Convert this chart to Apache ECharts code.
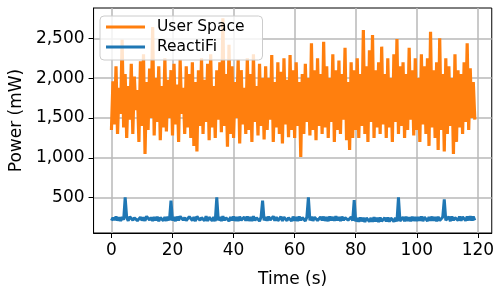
<!DOCTYPE html>
<html lang="en">
<head>
    <meta charset="UTF-8">
    <title>Power over time</title>
    <script src="https://cdn.jsdelivr.net/npm/echarts@6/dist/echarts.min.js"></script>
    <style>
        body, html {
            margin: 0;
            padding: 0;
            background: #fff;
        }
        #chart {
            width: 497px;
            height: 293px;
        }
    </style>
</head>
<body>
<div id="chart"></div>
<script>
    // sample spacing in seconds
    const timeStep = 0.5;

    // User Space power (mW), one value every 0.5 s from t = 0
    const userSpace = [
        1350, 1960, 1420, 2150, 1300, 1880, 1550, 2480, 1380, 2050,
        1250, 1900, 1480, 2180, 1300, 2020, 1600, 1850, 1200, 2210,
        1400, 2300, 1050, 1950, 1350, 2120, 1500, 2640, 1280, 2000,
        1450, 2150, 1220, 1900, 1380, 2250, 1330, 1980, 1500, 2100,
        1280, 2180, 1420, 1920, 1200, 2230, 1550, 1880, 1300, 2150,
        1380, 2050, 1250, 2200, 1150, 1950, 1080, 2100, 1400, 2250,
        1300, 1980, 1450, 2180, 1220, 2300, 1380, 1900, 1250, 2100,
        1480, 2200, 1320, 2750, 1400, 2050, 1140, 2420, 1300, 2150,
        1250, 1950, 1500, 2230, 1180, 2100, 1420, 1880, 1300, 2250,
        1350, 2050, 1200, 2300, 1450, 1900, 1280, 2180, 1400, 2000,
        1230, 2150, 1350, 2000, 1480, 2290, 1200, 1950, 1380, 2200,
        1300, 2080, 1180, 2250, 1420, 1980, 1260, 2290, 1350, 2100,
        1250, 2200, 1400, 1950, 1010, 2050, 1300, 2180, 1450, 2000,
        1280, 2437, 1350, 2100, 1220, 2250, 1400, 2050, 1300, 2457,
        1380, 2150, 1250, 2000, 1450, 2300, 1200, 2100, 1350, 2220,
        1300, 2050, 1480, 2380, 1220, 1950, 1100, 2200, 1250, 2100,
        1350, 2250, 1250, 2050, 1400, 2605, 1300, 2150, 1200, 2350,
        1450, 2540, 1250, 2100, 1380, 2200, 1300, 2395, 1420, 2050,
        1250, 2250, 1380, 2000, 1200, 2300, 1450, 2490, 1300, 2150,
        1400, 2200, 1250, 2050, 1350, 2380, 1480, 2100, 1280, 2250,
        1350, 2000, 1200, 2300, 1420, 2150, 1300, 2250, 1150, 2583,
        1380, 2100, 1250, 2200, 1100, 2500, 1350, 2050, 1080, 2250,
        1300, 2150, 1400, 2000, 1050, 2300, 1200, 2100, 1380, 2050,
        1300, 2200, 1450, 2437, 1350, 2123, 1500, 1950, 1480
    ];

    // ReactiFi power (mW), same sampling
    const reactiFi = [
        212, 248, 220, 262, 214, 252, 208, 258, 222, 505,
        250, 210, 262, 268, 216, 248, 264, 212, 206, 256,
        214, 254, 210, 266, 270, 220, 252, 208, 258, 214,
        260, 206, 250, 264, 212, 256, 210, 262, 216, 462,
        212, 258, 206, 262, 214, 266, 270, 218, 250, 212,
        208, 262, 266, 214, 256, 206, 264, 268, 216, 250,
        258, 212, 266, 208, 254, 262, 210, 256, 206, 505,
        214, 258, 208, 266, 216, 250, 262, 206, 256, 214,
        264, 210, 256, 208, 262, 216, 206, 258, 212, 264,
        210, 256, 208, 266, 214, 250, 262, 206, 256, 462,
        214, 258, 210, 264, 218, 208, 266, 212, 258, 210,
        216, 262, 208, 256, 268, 212, 250, 258, 206, 262,
        212, 256, 208, 264, 216, 250, 262, 208, 256, 505,
        216, 262, 210, 256, 266, 214, 208, 258, 216, 262,
        210, 256, 206, 264, 216, 258, 210, 268, 214, 256,
        208, 262, 216, 250, 266, 218, 208, 258, 212, 470,
        202, 246, 198, 252, 204, 248, 196, 244, 252, 200,
        246, 198, 254, 202, 248, 196, 252, 204, 200, 248,
        202, 252, 198, 246, 254, 200, 248, 204, 505, 206,
        210, 256, 204, 262, 208, 254, 206, 260, 210, 256,
        208, 258, 210, 264, 206, 256, 260, 208, 258, 212,
        262, 210, 258, 206, 260, 212, 210, 258, 480, 216,
        210, 260, 206, 264, 216, 250, 268, 216, 262, 212,
        260, 266, 212, 262, 216, 268, 214, 262, 216
    ];

    const xTicks = [0, 20, 40, 60, 80, 100, 120];
    const yTicks = [500, 1000, 1500, 2000, 2500];

    const toPairs = arr => arr.map((v, i) => [i * timeStep, v]);

    const font = 'DejaVu Sans';
    const chart = echarts.init(document.getElementById('chart'), null, { renderer: 'canvas' });

    const option = {
        animation: false,
        grid: {
            left: 91,
            right: 5,
            top: 8,
            bottom: 60,
            show: true,
            borderColor: '#000',
            borderWidth: 1,
            backgroundColor: 'transparent'
        },
        legend: {
            orient: 'vertical',
            left: 100,
            top: 16,
            padding: [3, 18, 5, 6],
            itemGap: 4,
            icon: 'rect',
            itemWidth: 39,
            itemHeight: 3,
            backgroundColor: 'rgba(255,255,255,0.8)',
            borderColor: '#cccccc',
            borderWidth: 1,
            borderRadius: 4,
            textStyle: {
                fontFamily: font,
                fontSize: 15.5,
                color: '#000',
                padding: [0, 0, 0, 7]
            },
            data: ['User Space', 'ReactiFi']
        },
        xAxis: {
            type: 'value',
            min: -5.85,
            max: 124.55,
            name: 'Time (s)',
            nameLocation: 'middle',
            nameGap: 38,
            nameTextStyle: { fontFamily: font, fontSize: 17, color: '#000' },
            axisLine: { show: true, onZero: false, lineStyle: { color: '#000', width: 1 } },
            axisTick: { show: true, length: 5, lineStyle: { color: '#000' }, customValues: xTicks },
            axisLabel: {
                fontFamily: font, fontSize: 17, color: '#000', margin: 9,
                customValues: xTicks
            },
            splitLine: { show: true, lineStyle: { color: '#b8b8b8', width: 1.5 } }
        },
        yAxis: {
            type: 'value',
            min: 57,
            max: 2880,
            name: 'Power (mW)',
            nameLocation: 'middle',
            nameGap: 64,
            nameTextStyle: { fontFamily: font, fontSize: 17, color: '#000' },
            axisLine: { show: true, onZero: false, lineStyle: { color: '#000', width: 1 } },
            axisTick: { show: true, length: 5, lineStyle: { color: '#000' }, customValues: yTicks },
            axisLabel: {
                fontFamily: font, fontSize: 17, color: '#000', margin: 9,
                customValues: yTicks,
                formatter: v => v.toLocaleString('en-US')
            },
            splitLine: { show: true, lineStyle: { color: '#b8b8b8', width: 1.5 } }
        },
        series: [
            {
                name: 'User Space',
                type: 'line',
                data: toPairs(userSpace),
                showSymbol: false,
                sampling: null,
                lineStyle: { color: '#ff7f0e', width: 3.2 },
                itemStyle: { color: '#ff7f0e' }
            },
            {
                name: 'ReactiFi',
                type: 'line',
                data: toPairs(reactiFi),
                showSymbol: false,
                sampling: null,
                lineStyle: { color: '#1f77b4', width: 3 },
                itemStyle: { color: '#1f77b4' }
            }
        ]
    };

    chart.setOption(option);
</script>
</body>
</html>
